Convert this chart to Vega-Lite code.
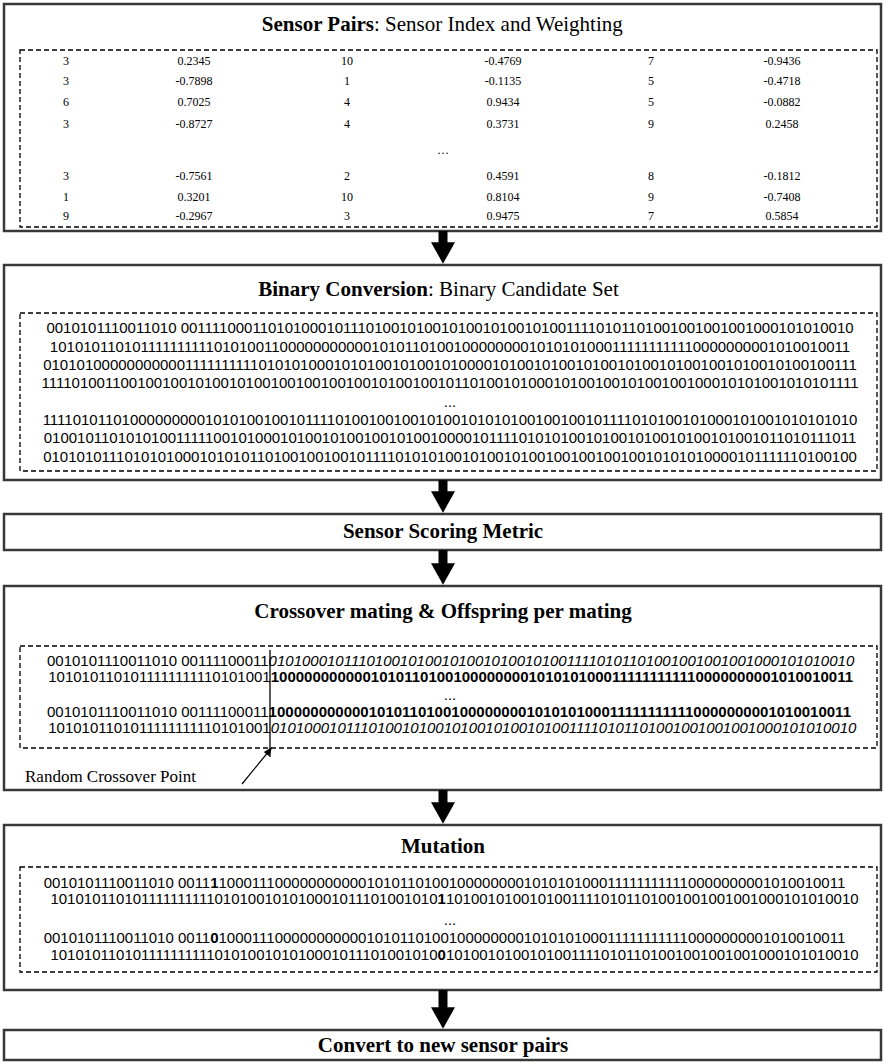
{
  "$schema": "https://vega.github.io/schema/vega-lite/v6.json",
  "width": 883,
  "height": 1063,
  "padding": 0,
  "autosize": {"type": "none"},
  "background": "white",
  "config": {"view": {"stroke": null}},
  "datasets": {
    "boxes": [
      {"x": 4, "x2": 881, "y": 4, "y2": 231},
      {"x": 4, "x2": 881, "y": 265, "y2": 480},
      {"x": 4, "x2": 881, "y": 514, "y2": 550},
      {"x": 4, "x2": 881, "y": 586, "y2": 790},
      {"x": 4, "x2": 881, "y": 825, "y2": 990},
      {"x": 4, "x2": 881, "y": 1030, "y2": 1060}
    ],
    "dashed": [
      {"x": 20, "x2": 877, "y": 50, "y2": 227},
      {"x": 20, "x2": 877, "y": 313, "y2": 471},
      {"x": 20, "x2": 877, "y": 646, "y2": 748},
      {"x": 20, "x2": 877, "y": 867, "y2": 972}
    ],
    "shafts": [
      {"x": 443, "y": 231, "y2": 253},
      {"x": 443, "y": 480, "y2": 502},
      {"x": 443, "y": 550, "y2": 574},
      {"x": 443, "y": 790, "y2": 813},
      {"x": 443, "y": 990, "y2": 1018}
    ],
    "heads": [
      {"x": 443, "y": 253},
      {"x": 443, "y": 502},
      {"x": 443, "y": 574},
      {"x": 443, "y": 813},
      {"x": 443, "y": 1018}
    ],
    "xline": [{"x": 270, "y": 650, "x2": 270, "y2": 757}],
    "pointer": [{"x": 242, "y": 784, "x2": 269, "y2": 751}],
    "pointerHead": [{"x": 269, "y": 751}],
    "titlesCenter": [
      {"x": 443, "y": 532, "t": "Sensor Scoring Metric"},
      {"x": 443, "y": 612, "t": "Crossover mating & Offspring per mating"},
      {"x": 443, "y": 847, "t": "Mutation"},
      {"x": 443, "y": 1046, "t": "Convert to new sensor pairs"}
    ],
    "titlesBold": [
      {"x": 374, "y": 25, "t": "Sensor Pairs"},
      {"x": 428, "y": 290, "t": "Binary Conversion"}
    ],
    "titlesRegular": [
      {"x": 374, "y": 25, "t": ": Sensor Index and Weighting"},
      {"x": 428, "y": 290, "t": ": Binary Candidate Set"}
    ],
    "table": [
      {"x": 66, "y": 61, "t": "3"}, {"x": 194, "y": 61, "t": "0.2345"}, {"x": 347, "y": 61, "t": "10"}, {"x": 503, "y": 61, "t": "-0.4769"}, {"x": 651, "y": 61, "t": "7"}, {"x": 782, "y": 61, "t": "-0.9436"},
      {"x": 66, "y": 81, "t": "3"}, {"x": 194, "y": 81, "t": "-0.7898"}, {"x": 347, "y": 81, "t": "1"}, {"x": 503, "y": 81, "t": "-0.1135"}, {"x": 651, "y": 81, "t": "5"}, {"x": 782, "y": 81, "t": "-0.4718"},
      {"x": 66, "y": 102, "t": "6"}, {"x": 194, "y": 102, "t": "0.7025"}, {"x": 347, "y": 102, "t": "4"}, {"x": 503, "y": 102, "t": "0.9434"}, {"x": 651, "y": 102, "t": "5"}, {"x": 782, "y": 102, "t": "-0.0882"},
      {"x": 66, "y": 124, "t": "3"}, {"x": 194, "y": 124, "t": "-0.8727"}, {"x": 347, "y": 124, "t": "4"}, {"x": 503, "y": 124, "t": "0.3731"}, {"x": 651, "y": 124, "t": "9"}, {"x": 782, "y": 124, "t": "0.2458"},
      {"x": 443, "y": 150, "t": "…"},
      {"x": 66, "y": 176, "t": "3"}, {"x": 194, "y": 176, "t": "-0.7561"}, {"x": 347, "y": 176, "t": "2"}, {"x": 503, "y": 176, "t": "0.4591"}, {"x": 651, "y": 176, "t": "8"}, {"x": 782, "y": 176, "t": "-0.1812"},
      {"x": 66, "y": 197, "t": "1"}, {"x": 194, "y": 197, "t": "0.3201"}, {"x": 347, "y": 197, "t": "10"}, {"x": 503, "y": 197, "t": "0.8104"}, {"x": 651, "y": 197, "t": "9"}, {"x": 782, "y": 197, "t": "-0.7408"},
      {"x": 66, "y": 216, "t": "9"}, {"x": 194, "y": 216, "t": "-0.2967"}, {"x": 347, "y": 216, "t": "3"}, {"x": 503, "y": 216, "t": "0.9475"}, {"x": 651, "y": 216, "t": "7"}, {"x": 782, "y": 216, "t": "0.5854"}
    ],
    "binaryCenter": [
      {"x": 450, "y": 328, "t": "0010101110011010 0011110001101010001011101001010010100101001010011110101101001001001001000101010010"},
      {"x": 450, "y": 347, "t": "101010110101111111111010100110000000000010101101001000000001010101000111111111110000000001010010011"},
      {"x": 450, "y": 365, "t": "010101000000000001111111111010101000101010010100101000010100101001010010100101001001010010100100111"},
      {"x": 450, "y": 383, "t": "111101001100100100101001010010010010010010100100101101001010001010010010100100100010101001010101111"},
      {"x": 450, "y": 402, "t": "..."},
      {"x": 450, "y": 420, "t": "111101011010000000001010100100101111010010010010100101010100100100101111010100101000101001010101010"},
      {"x": 450, "y": 438, "t": "010010110101010011111001010001010010100100101001000010111101010100101001010010100101001011010111011"},
      {"x": 450, "y": 457, "t": "010101011101010100010101011010010010010111101010100101001010010010010010010101010000101111110100100"},
      {"x": 450, "y": 695, "t": "..."},
      {"x": 450, "y": 920, "t": "..."}
    ],
    "prefixes": [
      {"x": 268.6, "y": 661, "t": "0010101110011010 00111100011"},
      {"x": 270.7, "y": 677, "t": "1010101101011111111110101001"},
      {"x": 268.6, "y": 712, "t": "0010101110011010 00111100011"},
      {"x": 270.7, "y": 728, "t": "1010101101011111111110101001"},
      {"x": 210.2, "y": 883, "t": "0010101110011010 0011"},
      {"x": 437.5, "y": 899, "t": "101010110101111111111010100101010001011101001010"},
      {"x": 210.2, "y": 938, "t": "0010101110011010 0011"},
      {"x": 437.5, "y": 955, "t": "101010110101111111111010100101010001011101001010"}
    ],
    "boldParts": [
      {"x": 270.7, "y": 677, "t": "10000000000010101101001000000001010101000111111111110000000001010010011"},
      {"x": 268.6, "y": 712, "t": "10000000000010101101001000000001010101000111111111110000000001010010011"},
      {"x": 210.2, "y": 883, "t": "1"},
      {"x": 437.5, "y": 899, "t": "1"},
      {"x": 210.2, "y": 938, "t": "0"},
      {"x": 437.5, "y": 955, "t": "0"}
    ],
    "italicParts": [
      {"x": 268.6, "y": 661, "t": "01010001011101001010010100101001010011110101101001001001001000101010010"},
      {"x": 270.7, "y": 728, "t": "01010001011101001010010100101001010011110101101001001001001000101010010"}
    ],
    "restParts": [
      {"x": 218.5, "y": 883, "t": "10001110000000000010101101001000000001010101000111111111110000000001010010011"},
      {"x": 445.9, "y": 899, "t": "10100101001010011110101101001001001001000101010010"},
      {"x": 218.5, "y": 938, "t": "10001110000000000010101101001000000001010101000111111111110000000001010010011"},
      {"x": 445.9, "y": 955, "t": "10100101001010011110101101001001001001000101010010"}
    ],
    "notes": [
      {"x": 25, "y": 777, "t": "Random Crossover Point"}
    ]
  },
  "encoding": {
    "x": {"field": "x", "type": "quantitative", "scale": {"domain": [0, 883], "nice": false, "zero": false}, "axis": null},
    "y": {"field": "y", "type": "quantitative", "scale": {"domain": [0, 1063], "nice": false, "zero": false, "reverse": true}, "axis": null}
  },
  "layer": [
    {
      "data": {"name": "boxes"},
      "mark": {"type": "rect", "fill": "white", "stroke": "#383838", "strokeWidth": 2.5},
      "encoding": {"x2": {"field": "x2"}, "y2": {"field": "y2"}}
    },
    {
      "data": {"name": "dashed"},
      "mark": {"type": "rect", "fill": null, "fillOpacity": 0, "stroke": "black", "strokeWidth": 1.3, "strokeDash": [5, 3]},
      "encoding": {"x2": {"field": "x2"}, "y2": {"field": "y2"}}
    },
    {
      "data": {"name": "shafts"},
      "mark": {"type": "rule", "color": "black", "strokeWidth": 9, "strokeCap": "butt"},
      "encoding": {"y2": {"field": "y2"}}
    },
    {
      "data": {"name": "heads"},
      "mark": {"type": "point", "shape": "M-1,-0.9L1,-0.9L0,0.9Z", "size": 576, "filled": true, "color": "black", "opacity": 1, "strokeWidth": 0}
    },
    {
      "data": {"name": "xline"},
      "mark": {"type": "rule", "color": "black", "strokeWidth": 1.3},
      "encoding": {"x2": {"field": "x2"}, "y2": {"field": "y2"}}
    },
    {
      "data": {"name": "pointer"},
      "mark": {"type": "rule", "color": "black", "strokeWidth": 1.2},
      "encoding": {"x2": {"field": "x2"}, "y2": {"field": "y2"}}
    },
    {
      "data": {"name": "pointerHead"},
      "mark": {"type": "point", "shape": "M0,-1L0.7,0.8L-0.7,0.8Z", "size": 100, "angle": 39, "filled": true, "color": "black", "opacity": 1, "strokeWidth": 0}
    },
    {
      "data": {"name": "titlesCenter"},
      "mark": {"type": "text", "font": "Liberation Serif", "fontSize": 21, "fontWeight": "bold", "align": "center", "baseline": "middle", "color": "black"},
      "encoding": {"text": {"field": "t"}}
    },
    {
      "data": {"name": "titlesBold"},
      "mark": {"type": "text", "font": "Liberation Serif", "fontSize": 21, "fontWeight": "bold", "align": "right", "baseline": "middle", "color": "black"},
      "encoding": {"text": {"field": "t"}}
    },
    {
      "data": {"name": "titlesRegular"},
      "mark": {"type": "text", "font": "Liberation Serif", "fontSize": 21, "fontWeight": "normal", "align": "left", "baseline": "middle", "color": "black"},
      "encoding": {"text": {"field": "t"}}
    },
    {
      "data": {"name": "table"},
      "mark": {"type": "text", "font": "Liberation Serif", "fontSize": 12, "align": "center", "baseline": "middle", "color": "black"},
      "encoding": {"text": {"field": "t"}}
    },
    {
      "data": {"name": "binaryCenter"},
      "mark": {"type": "text", "font": "Liberation Sans", "fontSize": 15, "align": "center", "baseline": "middle", "color": "black"},
      "encoding": {"text": {"field": "t"}}
    },
    {
      "data": {"name": "prefixes"},
      "mark": {"type": "text", "font": "Liberation Sans", "fontSize": 15, "align": "right", "baseline": "middle", "color": "black"},
      "encoding": {"text": {"field": "t"}}
    },
    {
      "data": {"name": "boldParts"},
      "mark": {"type": "text", "font": "Liberation Sans", "fontSize": 15, "fontWeight": "bold", "align": "left", "baseline": "middle", "color": "black"},
      "encoding": {"text": {"field": "t"}}
    },
    {
      "data": {"name": "italicParts"},
      "mark": {"type": "text", "font": "Liberation Sans", "fontSize": 15, "fontStyle": "italic", "align": "left", "baseline": "middle", "color": "black"},
      "encoding": {"text": {"field": "t"}}
    },
    {
      "data": {"name": "restParts"},
      "mark": {"type": "text", "font": "Liberation Sans", "fontSize": 15, "align": "left", "baseline": "middle", "color": "black"},
      "encoding": {"text": {"field": "t"}}
    },
    {
      "data": {"name": "notes"},
      "mark": {"type": "text", "font": "Liberation Serif", "fontSize": 17, "align": "left", "baseline": "middle", "color": "black"},
      "encoding": {"text": {"field": "t"}}
    }
  ]
}
